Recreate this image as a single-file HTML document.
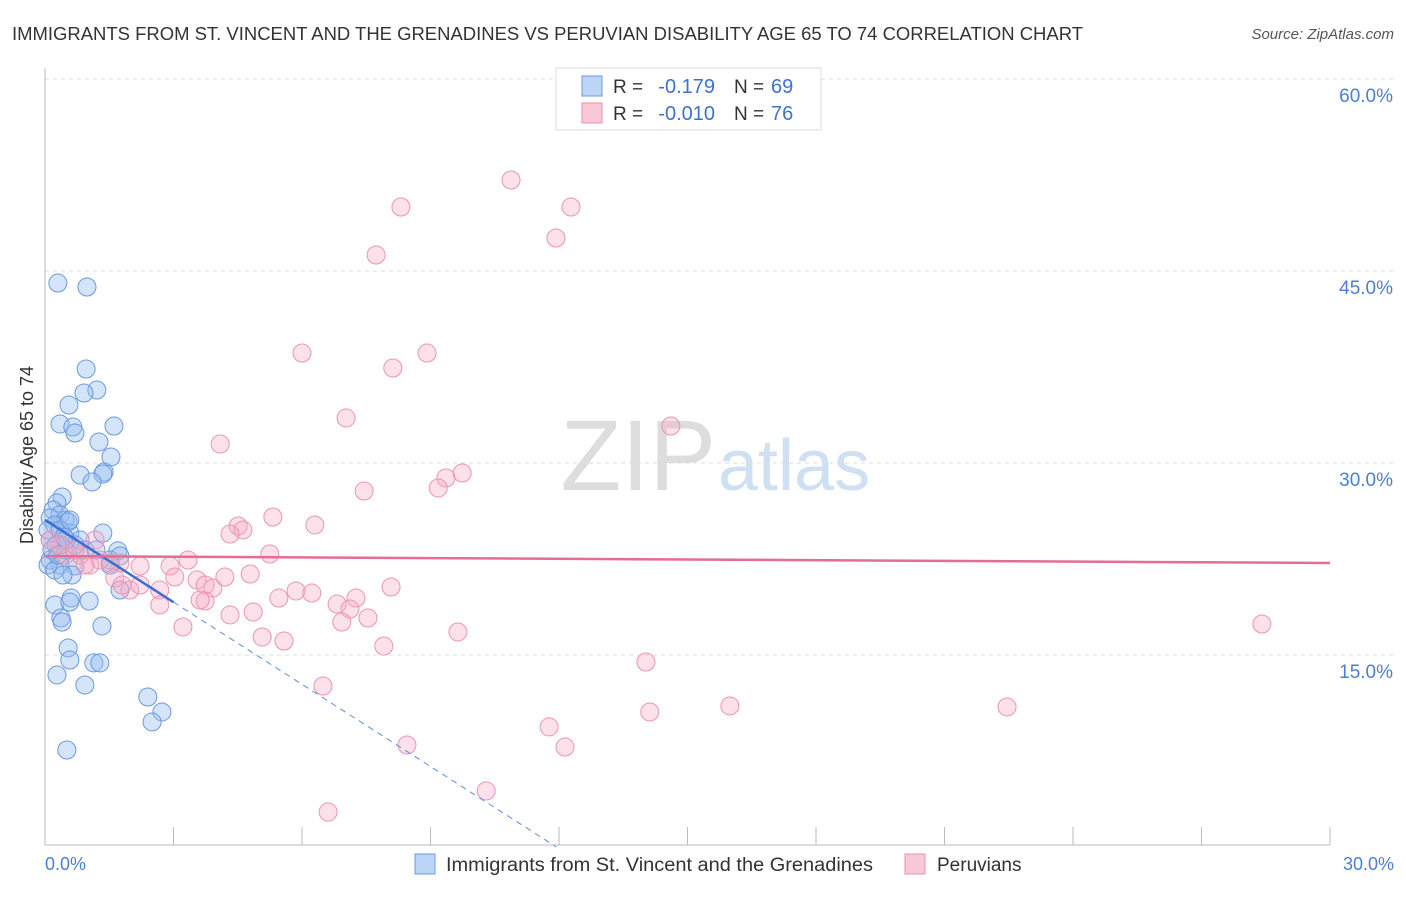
<!DOCTYPE html>
<html><head><meta charset="utf-8"><style>
body{margin:0;background:#fff;font-family:"Liberation Sans",sans-serif;}
svg text{font-family:"Liberation Sans",sans-serif;}
</style></head><body>
<svg id="chart" width="1406" height="892" xmlns="http://www.w3.org/2000/svg">
<text x="12" y="40" font-size="18" fill="#333" textLength="1071" lengthAdjust="spacingAndGlyphs">IMMIGRANTS FROM ST. VINCENT AND THE GRENADINES VS PERUVIAN DISABILITY AGE 65 TO 74 CORRELATION CHART</text>
<text x="1394" y="39" font-size="15" fill="#555" font-style="italic" text-anchor="end">Source: ZipAtlas.com</text>
<text x="716" y="490" font-size="100" fill="#ddd" text-anchor="end" font-family="Liberation Serif">ZIP</text>
<text x="718" y="490" font-size="72" fill="#cfe0f3">atlas</text>
<g id="grid"></g>
<g id="axes"></g>
<g id="pts"></g>
<g id="trend"></g>
<text transform="translate(33,455) rotate(-90)" font-size="18" fill="#333" text-anchor="middle">Disability Age 65 to 74</text>
<text x="45" y="870" font-size="18" fill="#4a7fd6">0.0%</text>
<text x="1394" y="870" font-size="18" fill="#4a7fd6" text-anchor="end">30.0%</text>
<g>
<rect x="556" y="68" width="265" height="62" fill="#fff" stroke="#ddd"/>
<rect x="582" y="76" width="20" height="20" fill="#bcd5f5" stroke="#6c9be0"/>
<rect x="582" y="103" width="20" height="20" fill="#f8c8d8" stroke="#e890ac"/>
<text x="613" y="93" font-size="19" fill="#333">R =</text>
<text x="715" y="93" font-size="20" fill="#3b72d0" text-anchor="end">-0.179</text>
<text x="734" y="93" font-size="19" fill="#333">N =</text>
<text x="771" y="93" font-size="20" fill="#3b72d0">69</text>
<text x="613" y="120" font-size="19" fill="#333">R =</text>
<text x="715" y="120" font-size="20" fill="#3b72d0" text-anchor="end">-0.010</text>
<text x="734" y="120" font-size="19" fill="#333">N =</text>
<text x="771" y="120" font-size="20" fill="#3b72d0">76</text>
</g>
<g>
<rect x="415" y="854" width="20" height="20" fill="#bcd5f5" stroke="#6c9be0"/>
<text x="446" y="871" font-size="19" fill="#333" textLength="427" lengthAdjust="spacingAndGlyphs">Immigrants from St. Vincent and the Grenadines</text>
<rect x="905" y="854" width="20" height="20" fill="#f8c8d8" stroke="#e890ac"/>
<text x="937" y="871" font-size="19" fill="#333">Peruvians</text>
</g>
</svg>
<script>
const blueX=[0.30,0.98,0.96,1.21,0.91,0.56,1.61,0.35,0.65,0.70,1.26,1.54,0.82,1.38,1.35,1.10,0.40,0.28,0.19,0.35,0.47,0.54,0.12,0.58,1.35,1.70,0.26,0.12,0.35,0.70,0.63,1.75,0.23,0.61,0.58,1.03,0.37,0.40,1.33,0.54,0.58,1.14,1.28,0.28,0.93,2.40,2.73,2.50,0.51,0.12,0.23,0.07,0.47,0.82,0.93,0.70,0.35,0.07,1.52,0.23,0.42,1.75,1.52,1.19,0.49,0.16,0.30,0.58,0.45];
const blueY=[44.06,43.75,37.34,35.70,35.47,34.53,32.89,33.05,32.81,32.34,31.64,30.47,29.06,29.30,29.14,28.52,27.34,26.88,26.33,25.94,25.55,25.39,25.70,24.53,24.53,23.13,23.59,22.42,22.03,21.95,21.25,20.08,18.91,19.45,19.14,19.22,17.89,17.58,17.27,15.55,14.61,14.38,14.38,13.44,12.66,11.72,10.55,9.77,7.58,23.98,25.16,24.77,23.20,23.98,23.20,23.59,24.77,22.03,22.42,21.64,21.25,22.73,22.03,23.20,23.98,23.20,22.81,25.55,24.2];
const pinkX=[10.88,8.31,12.28,11.93,7.73,6.00,8.92,8.12,7.03,4.09,14.61,9.74,9.36,7.45,9.18,5.32,6.30,4.51,4.62,4.32,5.25,3.34,2.22,2.92,1.28,1.75,0.82,1.05,0.47,1.52,1.63,1.98,2.68,3.03,3.55,3.74,3.92,4.20,4.79,2.68,3.74,5.86,6.23,5.46,7.26,6.82,8.08,7.12,7.54,6.93,4.86,3.22,5.07,5.58,7.91,9.64,14.03,6.49,11.77,14.12,15.99,22.46,28.41,8.45,12.14,10.30,6.61,0.35,0.70,1.17,0.12,0.93,2.22,1.80,3.62,4.32];
const pinkY=[52.11,50.00,50.00,47.58,46.25,38.59,38.59,37.42,33.52,31.48,32.89,29.22,28.83,27.81,28.05,25.78,25.16,25.08,24.77,24.45,22.89,22.42,21.95,21.95,22.42,22.19,22.81,22.03,22.81,22.19,21.02,20.08,20.08,21.09,20.86,20.47,20.23,21.09,21.33,18.91,19.22,20.00,19.84,19.45,19.45,18.98,20.31,18.59,17.89,17.58,18.36,17.19,16.41,16.09,15.70,16.80,14.45,12.58,9.38,10.55,11.02,10.94,17.42,7.97,7.81,4.38,2.73,23.59,23.20,23.98,23.98,22.03,20.47,20.47,19.30,18.13];
const yTicks=[15,30,45,60];
const yTickLabels=["15.0%","30.0%","45.0%","60.0%"];
const xTicks=[0,3,6,9,12,15,18,21,24,27,30];
const blueTrend=[25.55,-2.14];
const pinkTrend=[22.73,-0.018];
const X=v=>45+v/30*1285, Y=v=>847-v/15*192;
const NS="http://www.w3.org/2000/svg";
function mk(tag,attrs,parent){const e=document.createElementNS(NS,tag);for(const k in attrs)e.setAttribute(k,attrs[k]);document.getElementById(parent).appendChild(e);return e;}
yTicks.forEach((t,i)=>{
  const g=mk('line',{x1:45,x2:1393,y1:Y(t),y2:Y(t),stroke:'#ddd','stroke-dasharray':'4,4'},'grid');
  
  
  const tx=mk('text',{x:1393,y:Y(t)+23,'font-size':19,fill:'#4a7fd6','text-anchor':'end'},'grid');
  tx.textContent=yTickLabels[i];
  
  
});
const ax=mk('line',{x1:45,x2:45,y1:68,y2:845,stroke:'#bbb'},'axes');


const bx=mk('line',{x1:45,x2:1330,y1:845,y2:845,stroke:'#bbb'},'axes');


xTicks.forEach(t=>{
  const l=mk('line',{x1:X(t),x2:X(t),y1:827,y2:845,stroke:'#bbb'},'axes');
  
  
});
blueX.forEach((v,i)=>{
  const c=mk('circle',{cx:X(v),cy:Y(blueY[i]),r:9,fill:'rgba(150,190,240,0.4)',stroke:'#6b98e0','stroke-width':1},'pts');
  
  
});
pinkX.forEach((v,i)=>{
  const c=mk('circle',{cx:X(v),cy:Y(pinkY[i]),r:9,fill:'rgba(245,170,195,0.35)',stroke:'#eb94b0','stroke-width':1},'pts');
  
  
});
const bf=x=>blueTrend[0]+blueTrend[1]*x, pf=x=>pinkTrend[0]+pinkTrend[1]*x;
const bs=mk('line',{x1:X(0),y1:Y(bf(0)),x2:X(3),y2:Y(bf(3)),stroke:'#3b6fd0','stroke-width':2.5},'trend');


const xe=blueTrend[0]/-blueTrend[1];
const bd=mk('line',{x1:X(3),y1:Y(bf(3)),x2:X(xe),y2:Y(0),stroke:'#5b8ee0','stroke-width':1,'stroke-dasharray':'6,5'},'trend');


const pl=mk('line',{x1:X(0),y1:Y(pf(0)),x2:X(30),y2:Y(pf(30)),stroke:'#e46c96','stroke-width':2.5},'trend');


</script>
</body></html>
